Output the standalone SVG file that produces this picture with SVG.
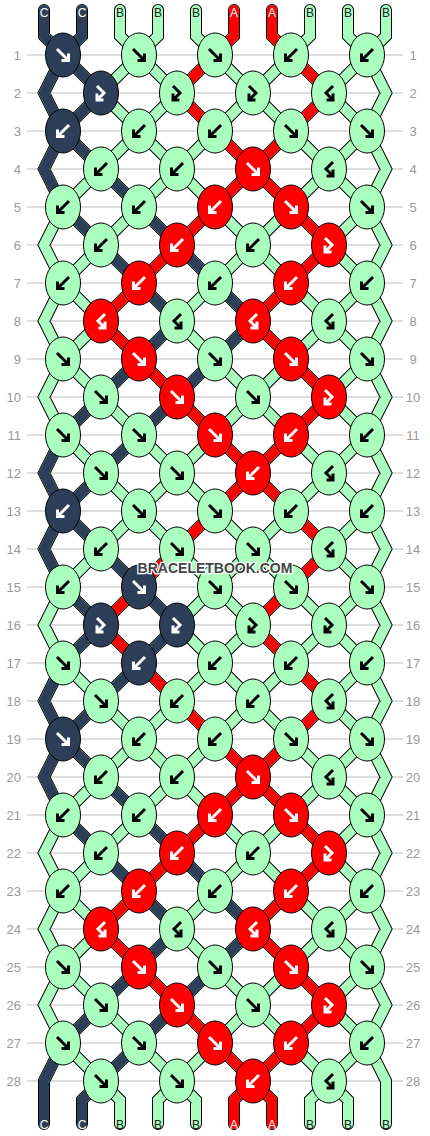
<svg xmlns="http://www.w3.org/2000/svg" xmlns:xlink="http://www.w3.org/1999/xlink" width="430" height="1136" viewBox="0 0 430 1136">
<style>
.d{fill:#2c3e58}.g{fill:#aaffbe}.r{fill:#f00}
.a{fill:none;stroke-width:3;stroke-linecap:butt;stroke-linejoin:miter}
.d .a,.r .a{stroke:#fff}.g .a{stroke:#000}
.th{fill:none;stroke-linecap:round;stroke-linejoin:miter}
.ol{stroke:#000;stroke-width:12}
.tg{stroke:#aaffbe;stroke-width:10}
.td{stroke:#2c3e58;stroke-width:10}
.tr{stroke:#f00;stroke-width:10}
.rl{stroke:#bbb;stroke-width:1}
.rn{font-family:"Liberation Sans",Arial,sans-serif;font-size:13px;fill:#999}
.lb{font-family:"Liberation Sans",Arial,sans-serif;font-size:12px;text-anchor:middle}
.lw{fill:#fff}.lk{fill:#222}
.wm{font-family:"Liberation Sans",Arial,sans-serif;font-size:14px;font-weight:bold;fill:#444;stroke:#fff;stroke-width:2.5;paint-order:stroke;text-anchor:middle}
</style>
<defs>
<ellipse id="e" rx="17.5" ry="22" stroke="#000" stroke-width="1"/>
<path id="aF" d="M-6,-6L4,4M-1.5,5.5H5.5V-1.5"/>
<path id="aB" d="M6,-6L-4,4M1.5,5.5H-5.5V-1.5"/>
<path id="aFB" d="M-4,-7L3,0L-2.5,5.5M-4,0.5V7H2.5"/>
<path id="aBF" d="M4,-7L-3,0L2.5,5.5M4,0.5V7H-2.5"/>
</defs>
<rect width="430" height="1136" fill="#fff"/>
<g id="rows">
<g class="rl">
<line x1="27" y1="55" x2="403" y2="55"/><line x1="27" y1="93" x2="403" y2="93"/><line x1="27" y1="131" x2="403" y2="131"/><line x1="27" y1="169" x2="403" y2="169"/><line x1="27" y1="207" x2="403" y2="207"/><line x1="27" y1="245" x2="403" y2="245"/><line x1="27" y1="283" x2="403" y2="283"/><line x1="27" y1="321" x2="403" y2="321"/><line x1="27" y1="359" x2="403" y2="359"/><line x1="27" y1="397" x2="403" y2="397"/><line x1="27" y1="435" x2="403" y2="435"/><line x1="27" y1="473" x2="403" y2="473"/><line x1="27" y1="511" x2="403" y2="511"/><line x1="27" y1="549" x2="403" y2="549"/><line x1="27" y1="587" x2="403" y2="587"/><line x1="27" y1="625" x2="403" y2="625"/><line x1="27" y1="663" x2="403" y2="663"/><line x1="27" y1="701" x2="403" y2="701"/><line x1="27" y1="739" x2="403" y2="739"/><line x1="27" y1="777" x2="403" y2="777"/><line x1="27" y1="815" x2="403" y2="815"/><line x1="27" y1="853" x2="403" y2="853"/><line x1="27" y1="891" x2="403" y2="891"/><line x1="27" y1="929" x2="403" y2="929"/><line x1="27" y1="967" x2="403" y2="967"/><line x1="27" y1="1005" x2="403" y2="1005"/><line x1="27" y1="1043" x2="403" y2="1043"/><line x1="27" y1="1081" x2="403" y2="1081"/>
</g>
<g class="rn" text-anchor="end">
<text x="21" y="59.5">1</text><text x="21" y="97.5">2</text><text x="21" y="135.5">3</text><text x="21" y="173.5">4</text><text x="21" y="211.5">5</text><text x="21" y="249.5">6</text><text x="21" y="287.5">7</text><text x="21" y="325.5">8</text><text x="21" y="363.5">9</text><text x="21" y="401.5">10</text><text x="21" y="439.5">11</text><text x="21" y="477.5">12</text><text x="21" y="515.5">13</text><text x="21" y="553.5">14</text><text x="21" y="591.5">15</text><text x="21" y="629.5">16</text><text x="21" y="667.5">17</text><text x="21" y="705.5">18</text><text x="21" y="743.5">19</text><text x="21" y="781.5">20</text><text x="21" y="819.5">21</text><text x="21" y="857.5">22</text><text x="21" y="895.5">23</text><text x="21" y="933.5">24</text><text x="21" y="971.5">25</text><text x="21" y="1009.5">26</text><text x="21" y="1047.5">27</text><text x="21" y="1085.5">28</text>
</g>
<g class="rn" text-anchor="middle">
<text x="413" y="59.5">1</text><text x="413" y="97.5">2</text><text x="413" y="135.5">3</text><text x="413" y="173.5">4</text><text x="413" y="211.5">5</text><text x="413" y="249.5">6</text><text x="413" y="287.5">7</text><text x="413" y="325.5">8</text><text x="413" y="363.5">9</text><text x="413" y="401.5">10</text><text x="413" y="439.5">11</text><text x="413" y="477.5">12</text><text x="413" y="515.5">13</text><text x="413" y="553.5">14</text><text x="413" y="591.5">15</text><text x="413" y="629.5">16</text><text x="413" y="667.5">17</text><text x="413" y="705.5">18</text><text x="413" y="743.5">19</text><text x="413" y="781.5">20</text><text x="413" y="819.5">21</text><text x="413" y="857.5">22</text><text x="413" y="895.5">23</text><text x="413" y="933.5">24</text><text x="413" y="971.5">25</text><text x="413" y="1009.5">26</text><text x="413" y="1047.5">27</text><text x="413" y="1085.5">28</text>
</g>
</g>
<g id="threads" class="th">
<defs>
<path id="all" d="M44,10V36L63,55M82,10V36L63,55M120,10V36L139,55M158,10V36L139,55M196,10V36L215,55M234,10V36L215,55M272,10V36L291,55M310,10V36L291,55M348,10V36L367,55M386,10V36L367,55
M63,55L367,359M63,131L367,435M63,207L367,511M63,283L367,587M63,359L367,663M63,435L367,739M63,511L367,815M63,587L367,891M63,663L367,967M63,739L367,1043M63,815L329,1081M63,891L253,1081M63,967L177,1081M63,1043L101,1081M139,55L367,283M215,55L367,207M291,55L367,131
M367,55L63,359M367,131L63,435M367,207L63,511M367,283L63,587M367,359L63,663M367,435L63,739M367,511L63,815M367,587L63,891M367,663L63,967M367,739L63,1043M367,815L101,1081M367,891L177,1081M367,967L253,1081M367,1043L329,1081M291,55L63,283M215,55L63,207M139,55L63,131
M63,55L44,93L63,131M63,131L44,169L63,207M63,207L44,245L63,283M63,283L44,321L63,359M63,359L44,397L63,435M63,435L44,473L63,511M63,511L44,549L63,587M63,587L44,625L63,663M63,663L44,701L63,739M63,739L44,777L63,815M63,815L44,853L63,891M63,891L44,929L63,967M63,967L44,1005L63,1043M63,1043L44,1081V1124
M367,55L386,93L367,131M367,131L386,169L367,207M367,207L386,245L367,283M367,283L386,321L367,359M367,359L386,397L367,435M367,435L386,473L367,511M367,511L386,549L367,587M367,587L386,625L367,663M367,663L386,701L367,739M367,739L386,777L367,815M367,815L386,853L367,891M367,891L386,929L367,967M367,967L386,1005L367,1043M367,1043L386,1081V1124
M101,1081L82,1100V1124M101,1081L120,1100V1124M177,1081L158,1100V1124M177,1081L196,1100V1124M253,1081L234,1100V1124M253,1081L272,1100V1124M329,1081L310,1100V1124M329,1081L348,1100V1124"/>
</defs>
<use href="#all" class="ol"/>
<use href="#all" class="tg"/>
<path class="td" d="M44,10V36L63,55M82,10V36L63,55
M63,55l38,38M101,93l-38,38M63,131l38,38M101,169l38,38M63,207l38,38M139,207l38,38M101,245l38,38M177,245l38,38M139,283l38,38M215,283l38,38M177,321l-38,38M253,321l-38,38M139,359l-38,38M215,359l-38,38M101,397l-38,38M177,397l-38,38M139,435l-38,38M101,473l-38,38M63,511l38,38M101,549l38,38M63,587l38,38M139,587l38,38M101,625l-38,38M177,625l-38,38M139,663l-38,38M101,701l-38,38M63,739l38,38M101,777l38,38M63,815l38,38M139,815l38,38M101,853l38,38M177,853l38,38M139,891l38,38M215,891l38,38M177,929l-38,38M253,929l-38,38M139,967l-38,38M215,967l-38,38M101,1005l-38,38M177,1005l-38,38M139,1043l-38,38
M63,55L44,93L63,131M63,131L44,169L63,207M63,435L44,473L63,511M63,511L44,549L63,587M63,663L44,701L63,739M63,739L44,777L63,815M63,1043L44,1081V1124M101,1081L82,1100V1124"/>
<path class="tr" d="M234,10V36L215,55M272,10V36L291,55
M215,55l-38,38M291,55l38,38M177,93l38,38M329,93l-38,38M215,131l38,38M291,131l-38,38M253,169l-38,38M253,169l38,38M215,207l-38,38M291,207l38,38M177,245l-38,38M329,245l-38,38M139,283l-38,38M291,283l-38,38M101,321l38,38M253,321l38,38M139,359l38,38M291,359l38,38M177,397l38,38M329,397l-38,38M215,435l38,38M291,435l-38,38M253,473l-38,38M253,473l38,38M215,511l-38,38M291,511l38,38M177,549l-38,38M329,549l-38,38M139,587l-38,38M291,587l-38,38M101,625l38,38M253,625l38,38M139,663l38,38M291,663l38,38M177,701l38,38M329,701l-38,38M215,739l38,38M291,739l-38,38M253,777l-38,38M253,777l38,38M215,815l-38,38M291,815l38,38M177,853l-38,38M329,853l-38,38M139,891l-38,38M291,891l-38,38M101,929l38,38M253,929l38,38M139,967l38,38M291,967l38,38M177,1005l38,38M329,1005l-38,38M215,1043l38,38M291,1043l-38,38
M253,1081L234,1100V1124M253,1081L272,1100V1124"/>
</g>
<g id="knots">
<g id="k1_1" class="d" transform="translate(63,55)"><use href="#e"/><use href="#aF" class="a"/></g>
<g id="k1_2" class="g" transform="translate(139,55)"><use href="#e"/><use href="#aF" class="a"/></g>
<g id="k1_3" class="g" transform="translate(215,55)"><use href="#e"/><use href="#aF" class="a"/></g>
<g id="k1_4" class="g" transform="translate(291,55)"><use href="#e"/><use href="#aB" class="a"/></g>
<g id="k1_5" class="g" transform="translate(367,55)"><use href="#e"/><use href="#aB" class="a"/></g>
<g id="k2_1" class="d" transform="translate(101,93)"><use href="#e"/><use href="#aFB" class="a"/></g>
<g id="k2_2" class="g" transform="translate(177,93)"><use href="#e"/><use href="#aFB" class="a"/></g>
<g id="k2_3" class="g" transform="translate(253,93)"><use href="#e"/><use href="#aFB" class="a"/></g>
<g id="k2_4" class="g" transform="translate(329,93)"><use href="#e"/><use href="#aBF" class="a"/></g>
<g id="k3_1" class="d" transform="translate(63,131)"><use href="#e"/><use href="#aB" class="a"/></g>
<g id="k3_2" class="g" transform="translate(139,131)"><use href="#e"/><use href="#aB" class="a"/></g>
<g id="k3_3" class="g" transform="translate(215,131)"><use href="#e"/><use href="#aB" class="a"/></g>
<g id="k3_4" class="g" transform="translate(291,131)"><use href="#e"/><use href="#aF" class="a"/></g>
<g id="k3_5" class="g" transform="translate(367,131)"><use href="#e"/><use href="#aF" class="a"/></g>
<g id="k4_1" class="g" transform="translate(101,169)"><use href="#e"/><use href="#aB" class="a"/></g>
<g id="k4_2" class="g" transform="translate(177,169)"><use href="#e"/><use href="#aB" class="a"/></g>
<g id="k4_3" class="r" transform="translate(253,169)"><use href="#e"/><use href="#aF" class="a"/></g>
<g id="k4_4" class="g" transform="translate(329,169)"><use href="#e"/><use href="#aBF" class="a"/></g>
<g id="k5_1" class="g" transform="translate(63,207)"><use href="#e"/><use href="#aB" class="a"/></g>
<g id="k5_2" class="g" transform="translate(139,207)"><use href="#e"/><use href="#aB" class="a"/></g>
<g id="k5_3" class="r" transform="translate(215,207)"><use href="#e"/><use href="#aB" class="a"/></g>
<g id="k5_4" class="r" transform="translate(291,207)"><use href="#e"/><use href="#aF" class="a"/></g>
<g id="k5_5" class="g" transform="translate(367,207)"><use href="#e"/><use href="#aF" class="a"/></g>
<g id="k6_1" class="g" transform="translate(101,245)"><use href="#e"/><use href="#aB" class="a"/></g>
<g id="k6_2" class="r" transform="translate(177,245)"><use href="#e"/><use href="#aB" class="a"/></g>
<g id="k6_3" class="g" transform="translate(253,245)"><use href="#e"/><use href="#aB" class="a"/></g>
<g id="k6_4" class="r" transform="translate(329,245)"><use href="#e"/><use href="#aFB" class="a"/></g>
<g id="k7_1" class="g" transform="translate(63,283)"><use href="#e"/><use href="#aB" class="a"/></g>
<g id="k7_2" class="r" transform="translate(139,283)"><use href="#e"/><use href="#aB" class="a"/></g>
<g id="k7_3" class="g" transform="translate(215,283)"><use href="#e"/><use href="#aB" class="a"/></g>
<g id="k7_4" class="r" transform="translate(291,283)"><use href="#e"/><use href="#aB" class="a"/></g>
<g id="k7_5" class="g" transform="translate(367,283)"><use href="#e"/><use href="#aB" class="a"/></g>
<g id="k8_1" class="r" transform="translate(101,321)"><use href="#e"/><use href="#aBF" class="a"/></g>
<g id="k8_2" class="g" transform="translate(177,321)"><use href="#e"/><use href="#aBF" class="a"/></g>
<g id="k8_3" class="r" transform="translate(253,321)"><use href="#e"/><use href="#aBF" class="a"/></g>
<g id="k8_4" class="g" transform="translate(329,321)"><use href="#e"/><use href="#aBF" class="a"/></g>
<g id="k9_1" class="g" transform="translate(63,359)"><use href="#e"/><use href="#aF" class="a"/></g>
<g id="k9_2" class="r" transform="translate(139,359)"><use href="#e"/><use href="#aF" class="a"/></g>
<g id="k9_3" class="g" transform="translate(215,359)"><use href="#e"/><use href="#aF" class="a"/></g>
<g id="k9_4" class="r" transform="translate(291,359)"><use href="#e"/><use href="#aF" class="a"/></g>
<g id="k9_5" class="g" transform="translate(367,359)"><use href="#e"/><use href="#aF" class="a"/></g>
<g id="k10_1" class="g" transform="translate(101,397)"><use href="#e"/><use href="#aF" class="a"/></g>
<g id="k10_2" class="r" transform="translate(177,397)"><use href="#e"/><use href="#aF" class="a"/></g>
<g id="k10_3" class="g" transform="translate(253,397)"><use href="#e"/><use href="#aF" class="a"/></g>
<g id="k10_4" class="r" transform="translate(329,397)"><use href="#e"/><use href="#aFB" class="a"/></g>
<g id="k11_1" class="g" transform="translate(63,435)"><use href="#e"/><use href="#aF" class="a"/></g>
<g id="k11_2" class="g" transform="translate(139,435)"><use href="#e"/><use href="#aF" class="a"/></g>
<g id="k11_3" class="r" transform="translate(215,435)"><use href="#e"/><use href="#aF" class="a"/></g>
<g id="k11_4" class="r" transform="translate(291,435)"><use href="#e"/><use href="#aB" class="a"/></g>
<g id="k11_5" class="g" transform="translate(367,435)"><use href="#e"/><use href="#aB" class="a"/></g>
<g id="k12_1" class="g" transform="translate(101,473)"><use href="#e"/><use href="#aF" class="a"/></g>
<g id="k12_2" class="g" transform="translate(177,473)"><use href="#e"/><use href="#aF" class="a"/></g>
<g id="k12_3" class="r" transform="translate(253,473)"><use href="#e"/><use href="#aB" class="a"/></g>
<g id="k12_4" class="g" transform="translate(329,473)"><use href="#e"/><use href="#aBF" class="a"/></g>
<g id="k13_1" class="d" transform="translate(63,511)"><use href="#e"/><use href="#aB" class="a"/></g>
<g id="k13_2" class="g" transform="translate(139,511)"><use href="#e"/><use href="#aF" class="a"/></g>
<g id="k13_3" class="g" transform="translate(215,511)"><use href="#e"/><use href="#aF" class="a"/></g>
<g id="k13_4" class="g" transform="translate(291,511)"><use href="#e"/><use href="#aB" class="a"/></g>
<g id="k13_5" class="g" transform="translate(367,511)"><use href="#e"/><use href="#aB" class="a"/></g>
<g id="k14_1" class="g" transform="translate(101,549)"><use href="#e"/><use href="#aB" class="a"/></g>
<g id="k14_2" class="g" transform="translate(177,549)"><use href="#e"/><use href="#aF" class="a"/></g>
<g id="k14_3" class="g" transform="translate(253,549)"><use href="#e"/><use href="#aF" class="a"/></g>
<g id="k14_4" class="g" transform="translate(329,549)"><use href="#e"/><use href="#aBF" class="a"/></g>
<g id="k15_1" class="g" transform="translate(63,587)"><use href="#e"/><use href="#aB" class="a"/></g>
<g id="k15_2" class="d" transform="translate(139,587)"><use href="#e"/><use href="#aF" class="a"/></g>
<g id="k15_3" class="g" transform="translate(215,587)"><use href="#e"/><use href="#aF" class="a"/></g>
<g id="k15_4" class="g" transform="translate(291,587)"><use href="#e"/><use href="#aF" class="a"/></g>
<g id="k15_5" class="g" transform="translate(367,587)"><use href="#e"/><use href="#aF" class="a"/></g>
<g id="k16_1" class="d" transform="translate(101,625)"><use href="#e"/><use href="#aFB" class="a"/></g>
<g id="k16_2" class="d" transform="translate(177,625)"><use href="#e"/><use href="#aFB" class="a"/></g>
<g id="k16_3" class="g" transform="translate(253,625)"><use href="#e"/><use href="#aFB" class="a"/></g>
<g id="k16_4" class="g" transform="translate(329,625)"><use href="#e"/><use href="#aFB" class="a"/></g>
<g id="k17_1" class="g" transform="translate(63,663)"><use href="#e"/><use href="#aF" class="a"/></g>
<g id="k17_2" class="d" transform="translate(139,663)"><use href="#e"/><use href="#aB" class="a"/></g>
<g id="k17_3" class="g" transform="translate(215,663)"><use href="#e"/><use href="#aB" class="a"/></g>
<g id="k17_4" class="g" transform="translate(291,663)"><use href="#e"/><use href="#aB" class="a"/></g>
<g id="k17_5" class="g" transform="translate(367,663)"><use href="#e"/><use href="#aB" class="a"/></g>
<g id="k18_1" class="g" transform="translate(101,701)"><use href="#e"/><use href="#aF" class="a"/></g>
<g id="k18_2" class="g" transform="translate(177,701)"><use href="#e"/><use href="#aB" class="a"/></g>
<g id="k18_3" class="g" transform="translate(253,701)"><use href="#e"/><use href="#aB" class="a"/></g>
<g id="k18_4" class="g" transform="translate(329,701)"><use href="#e"/><use href="#aBF" class="a"/></g>
<g id="k19_1" class="d" transform="translate(63,739)"><use href="#e"/><use href="#aF" class="a"/></g>
<g id="k19_2" class="g" transform="translate(139,739)"><use href="#e"/><use href="#aB" class="a"/></g>
<g id="k19_3" class="g" transform="translate(215,739)"><use href="#e"/><use href="#aB" class="a"/></g>
<g id="k19_4" class="g" transform="translate(291,739)"><use href="#e"/><use href="#aF" class="a"/></g>
<g id="k19_5" class="g" transform="translate(367,739)"><use href="#e"/><use href="#aF" class="a"/></g>
<g id="k20_1" class="g" transform="translate(101,777)"><use href="#e"/><use href="#aB" class="a"/></g>
<g id="k20_2" class="g" transform="translate(177,777)"><use href="#e"/><use href="#aB" class="a"/></g>
<g id="k20_3" class="r" transform="translate(253,777)"><use href="#e"/><use href="#aF" class="a"/></g>
<g id="k20_4" class="g" transform="translate(329,777)"><use href="#e"/><use href="#aBF" class="a"/></g>
<g id="k21_1" class="g" transform="translate(63,815)"><use href="#e"/><use href="#aB" class="a"/></g>
<g id="k21_2" class="g" transform="translate(139,815)"><use href="#e"/><use href="#aB" class="a"/></g>
<g id="k21_3" class="r" transform="translate(215,815)"><use href="#e"/><use href="#aB" class="a"/></g>
<g id="k21_4" class="r" transform="translate(291,815)"><use href="#e"/><use href="#aF" class="a"/></g>
<g id="k21_5" class="g" transform="translate(367,815)"><use href="#e"/><use href="#aF" class="a"/></g>
<g id="k22_1" class="g" transform="translate(101,853)"><use href="#e"/><use href="#aB" class="a"/></g>
<g id="k22_2" class="r" transform="translate(177,853)"><use href="#e"/><use href="#aB" class="a"/></g>
<g id="k22_3" class="g" transform="translate(253,853)"><use href="#e"/><use href="#aB" class="a"/></g>
<g id="k22_4" class="r" transform="translate(329,853)"><use href="#e"/><use href="#aFB" class="a"/></g>
<g id="k23_1" class="g" transform="translate(63,891)"><use href="#e"/><use href="#aB" class="a"/></g>
<g id="k23_2" class="r" transform="translate(139,891)"><use href="#e"/><use href="#aB" class="a"/></g>
<g id="k23_3" class="g" transform="translate(215,891)"><use href="#e"/><use href="#aB" class="a"/></g>
<g id="k23_4" class="r" transform="translate(291,891)"><use href="#e"/><use href="#aB" class="a"/></g>
<g id="k23_5" class="g" transform="translate(367,891)"><use href="#e"/><use href="#aB" class="a"/></g>
<g id="k24_1" class="r" transform="translate(101,929)"><use href="#e"/><use href="#aBF" class="a"/></g>
<g id="k24_2" class="g" transform="translate(177,929)"><use href="#e"/><use href="#aBF" class="a"/></g>
<g id="k24_3" class="r" transform="translate(253,929)"><use href="#e"/><use href="#aBF" class="a"/></g>
<g id="k24_4" class="g" transform="translate(329,929)"><use href="#e"/><use href="#aBF" class="a"/></g>
<g id="k25_1" class="g" transform="translate(63,967)"><use href="#e"/><use href="#aF" class="a"/></g>
<g id="k25_2" class="r" transform="translate(139,967)"><use href="#e"/><use href="#aF" class="a"/></g>
<g id="k25_3" class="g" transform="translate(215,967)"><use href="#e"/><use href="#aF" class="a"/></g>
<g id="k25_4" class="r" transform="translate(291,967)"><use href="#e"/><use href="#aF" class="a"/></g>
<g id="k25_5" class="g" transform="translate(367,967)"><use href="#e"/><use href="#aF" class="a"/></g>
<g id="k26_1" class="g" transform="translate(101,1005)"><use href="#e"/><use href="#aF" class="a"/></g>
<g id="k26_2" class="r" transform="translate(177,1005)"><use href="#e"/><use href="#aF" class="a"/></g>
<g id="k26_3" class="g" transform="translate(253,1005)"><use href="#e"/><use href="#aF" class="a"/></g>
<g id="k26_4" class="r" transform="translate(329,1005)"><use href="#e"/><use href="#aFB" class="a"/></g>
<g id="k27_1" class="g" transform="translate(63,1043)"><use href="#e"/><use href="#aF" class="a"/></g>
<g id="k27_2" class="g" transform="translate(139,1043)"><use href="#e"/><use href="#aF" class="a"/></g>
<g id="k27_3" class="r" transform="translate(215,1043)"><use href="#e"/><use href="#aF" class="a"/></g>
<g id="k27_4" class="r" transform="translate(291,1043)"><use href="#e"/><use href="#aB" class="a"/></g>
<g id="k27_5" class="g" transform="translate(367,1043)"><use href="#e"/><use href="#aB" class="a"/></g>
<g id="k28_1" class="g" transform="translate(101,1081)"><use href="#e"/><use href="#aF" class="a"/></g>
<g id="k28_2" class="g" transform="translate(177,1081)"><use href="#e"/><use href="#aF" class="a"/></g>
<g id="k28_3" class="r" transform="translate(253,1081)"><use href="#e"/><use href="#aB" class="a"/></g>
<g id="k28_4" class="g" transform="translate(329,1081)"><use href="#e"/><use href="#aBF" class="a"/></g>
</g>
<g id="labels" class="lb">
<text class="lw" x="44" y="16.5">C</text><text class="lw" x="82" y="16.5">C</text><text class="lk" x="120" y="16.5">B</text><text class="lk" x="158" y="16.5">B</text><text class="lk" x="196" y="16.5">B</text><text class="lw" x="234" y="16.5">A</text><text class="lw" x="272" y="16.5">A</text><text class="lk" x="310" y="16.5">B</text><text class="lk" x="348" y="16.5">B</text><text class="lk" x="386" y="16.5">B</text>
<text class="lw" x="44" y="1129">C</text><text class="lw" x="82" y="1129">C</text><text class="lk" x="120" y="1129">B</text><text class="lk" x="158" y="1129">B</text><text class="lk" x="196" y="1129">B</text><text class="lw" x="234" y="1129">A</text><text class="lw" x="272" y="1129">A</text><text class="lk" x="310" y="1129">B</text><text class="lk" x="348" y="1129">B</text><text class="lk" x="386" y="1129">B</text>
</g>
<text id="watermark" class="wm" x="215" y="573">BRACELETBOOK.COM</text>
</svg>
